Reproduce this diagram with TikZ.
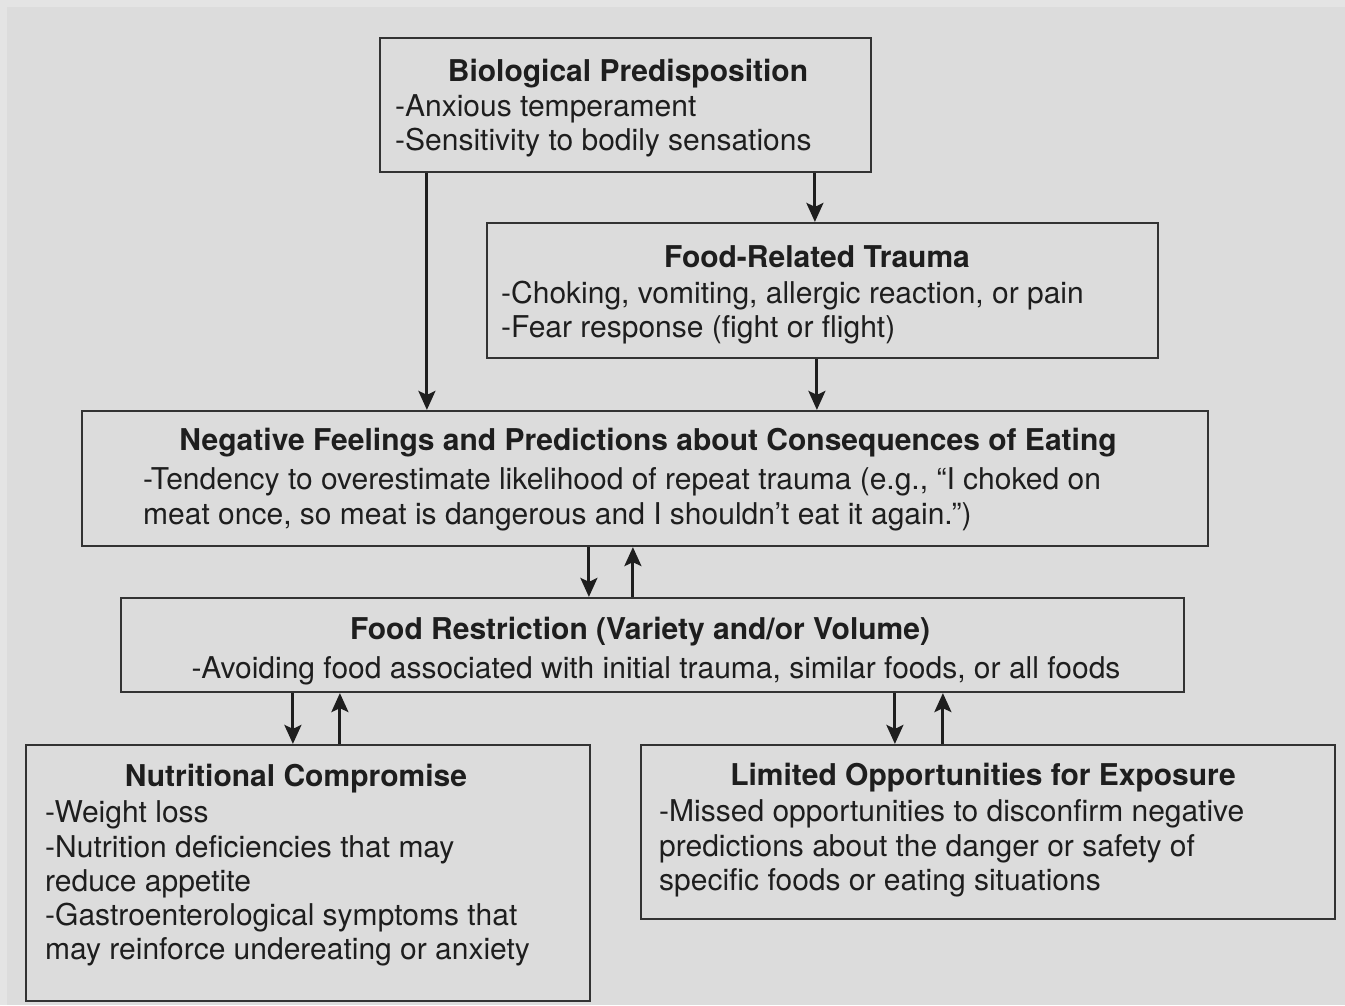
\documentclass[tikz,border=0pt]{standalone}
\usepackage{fontspec}
\setmainfont{TeX Gyre Heros}
\usetikzlibrary{arrows.meta,calc}
\definecolor{pagebg}{HTML}{E4E4E4}
\definecolor{panelbg}{HTML}{DCDCDC}
\definecolor{ink}{HTML}{1E1E1E}
\definecolor{rule}{HTML}{333333}
\tikzset{
  box/.style={draw=rule, line width=2.2pt, fill=panelbg, inner sep=0pt, rectangle},
  head/.style={font=\fontsize{30}{34}\selectfont\bfseries, text=ink, inner sep=0pt, anchor=base},
  line/.style={font=\fontsize{30}{34}\selectfont, text=ink, inner sep=0pt, anchor=base west},
  arr/.style={draw=ink, line width=3pt, -{Stealth[length=19pt,width=17pt,inset=4pt]}}
}
\begin{document}
\begin{tikzpicture}[x=1pt,y=-1pt]
  % page and panel background
  \fill[pagebg] (0,0) rectangle (1345,1005);
  \fill[panelbg] (7,7) rectangle (1345,1005);
  \useasboundingbox (0,0) rectangle (1345,1005);

  % boxes
  \node[box, minimum width=491pt, minimum height=134pt] (bio) at (625.5,105) {};
  \node[box, minimum width=671pt, minimum height=135pt] (trauma) at (822.5,290.5) {};
  \node[box, minimum width=1126pt, minimum height=135pt] (neg) at (645,478.5) {};
  \node[box, minimum width=1063pt, minimum height=94pt] (restr) at (652.5,645) {};
  \node[box, minimum width=564pt, minimum height=256pt] (nutr) at (308,873) {};
  \node[box, minimum width=694pt, minimum height=174pt] (lim) at (988,832) {};

  % Biological Predisposition
  \node[head] (bioT) at (628,81) {Biological Predisposition};
  \node[line] (bio1) at (395,116) {-Anxious temperament};
  \node[line] (bio2) at (395,150) {-Sensitivity to bodily sensations};

  % Food-Related Trauma
  \node[head] (trT) at (817,267) {Food-Related Trauma};
  \node[line] (tr1) at (501,303) {-Choking, vomiting, allergic reaction, or pain};
  \node[line] (tr2) at (501,337) {-Fear response (fight or flight)};

  % Negative Feelings
  \node[head] (negT) at (648,450) {Negative Feelings and Predictions about Consequences of Eating};
  \node[line] (neg1) at (143,489) {-Tendency to overestimate likelihood of repeat trauma (e.g., “I choked on};
  \node[line] (neg2) at (143,524) {meat once, so meat is dangerous and I shouldn’t eat it again.”)};

  % Food Restriction
  \node[head] (reT) at (640,639) {Food Restriction (Variety and/or Volume)};
  \node[head, font=\fontsize{30}{34}\selectfont] (re1) at (656,678) {-Avoiding food associated with initial trauma, similar foods, or all foods};

  % Nutritional Compromise
  \node[head] (nuT) at (296,786) {Nutritional Compromise};
  \node[line] (nu1) at (45,822) {-Weight loss};
  \node[line] (nu2) at (45,857) {-Nutrition deficiencies that may};
  \node[line] (nu3) at (45,891) {reduce appetite};
  \node[line] (nu4) at (45,925) {-Gastroenterological symptoms that};
  \node[line] (nu5) at (45,959) {may reinforce undereating or anxiety};

  % Limited Opportunities
  \node[head] (liT) at (983,785) {Limited Opportunities for Exposure};
  \node[line] (li1) at (659,821) {-Missed opportunities to disconfirm negative};
  \node[line] (li2) at (659,856) {predictions about the danger or safety of};
  \node[line] (li3) at (659,890) {specific foods or eating situations};

  % connectors
  \draw[arr] ([xshift=48pt]bio.south west) -- ([xshift=346pt]neg.north west);
  \draw[arr] ([xshift=436pt]bio.south west) -- ([xshift=329pt]trauma.north west);
  \draw[arr] ([xshift=331pt]trauma.south west) -- ([xshift=736pt]neg.north west);

  \draw[arr] ([xshift=508pt]neg.south west) -- ([xshift=469pt]restr.north west);
  \draw[arr] ([xshift=513pt]restr.north west) -- ([xshift=552pt]neg.south west);

  \draw[arr] ([xshift=173pt]restr.south west) -- ([xshift=268pt]nutr.north west);
  \draw[arr] ([xshift=315pt]nutr.north west) -- ([xshift=220pt]restr.south west);

  \draw[arr] ([xshift=775pt]restr.south west) -- ([xshift=255pt]lim.north west);
  \draw[arr] ([xshift=303pt]lim.north west) -- ([xshift=823pt]restr.south west);
\end{tikzpicture}
\end{document}
